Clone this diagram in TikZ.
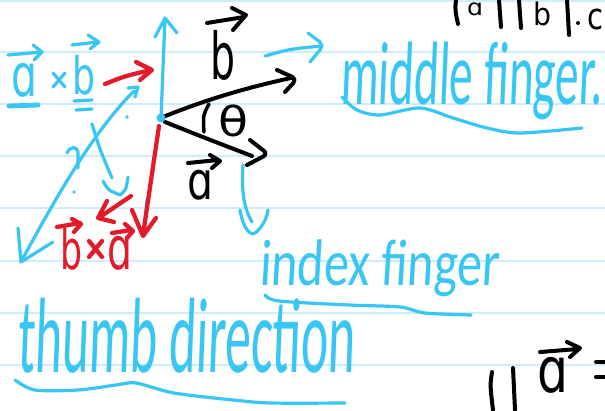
\documentclass[tikz,border=0pt]{standalone}
\usepackage{fontspec}
\usepackage{graphicx}
\newfontfamily\hand{DejaVu Sans}
\newfontfamily\handlight{Carlito}[FakeSlant=0.08]
\newdimen\pxu \pxu=0.75pt
\newcommand\fitt[3]{\resizebox*{#1\pxu}{#2\pxu}{\hand #3}}
\newcommand\fitw[3]{\resizebox*{#1\pxu}{#2\pxu}{\handlight #3}}
\definecolor{pen}{RGB}{56,198,245}
\definecolor{redc}{RGB}{226,26,42}
\definecolor{rulec}{RGB}{208,236,251}
\tikzset{
  bluepen/.style={draw=pen, line width=2.4pt, line cap=round, line join=round},
  blackpen/.style={draw=black, line width=3pt, line cap=round, line join=round},
  redpen/.style={draw=redc, line width=3.2pt, line cap=round, line join=round},
  ruleline/.style={draw=rulec, line width=1.3pt},
  txt/.style={inner sep=0pt, outer sep=0pt, anchor=north west},
}
\begin{document}
\begin{tikzpicture}[x=0.75pt,y=-0.75pt]
\useasboundingbox (0,0) rectangle (605,410);
\fill[white] (0,0) rectangle (605,410);
\begin{scope}
\clip (0,0) rectangle (605,410);
\foreach \yy in {1,52,104,156,208,261,313,365} \draw[ruleline] (0,\yy) -- (605,\yy);

% ---- labels (blue) ----
\node[txt,text=pen] (mid) at (340,42) {\fitw{262}{78}{middle finger.}};
\node[txt,text=pen] (idx) at (259,240) {\fitw{240}{57}{index finger}};
\node[txt,text=pen] (thumb) at (17,298) {\fitw{338}{75}{thumb direction}};
\node[txt,text=pen] (a1) at (12,63) {\fitt{26}{34}{ɑ}};
\node[txt,text=pen] (b1) at (72,55) {\fitt{23}{40}{b}};
% ---- labels (red) ----
\node[txt,text=redc] (b2) at (60,228) {\fitt{22}{42}{b}};
\node[txt,text=redc] (a2) at (107,236) {\fitt{25}{34}{ɑ}};
% ---- labels (black) ----
\node[txt] (theta) at (218,105) {\fitt{30}{32}{θ}};
\node[txt] (blab) at (210,30) {\fitt{25}{50}{b}};
\node[txt] (alab) at (187,170) {\fitt{26}{30}{ɑ}};
\node[txt] (tra) at (467,3) {\fitt{16}{13}{ɑ}};
\node[txt] (trb) at (533,2) {\fitt{18}{24}{b}};
\node[txt] (trc) at (587,9) {\fitt{16}{21}{c}};
\node[txt] (bra) at (537,357) {\fitt{31}{36}{ɑ}};

% multiplication signs
\draw[bluepen] (53,73) -- (65,87) (65,73) -- (53,87);
\draw[redpen] (89,241) -- (102,257) (102,241) -- (89,257);

% over-arrows and underlines of letters
\draw[bluepen] (8,55) -- (42,52) (33,45) -- (42,52) -- (34,60);
\draw[bluepen] (72,45) -- (98,42) (88,35) -- (99,42) -- (90,49);
\draw[bluepen, line width=3.6pt] (9,106) -- (38,105);
\draw[bluepen] (74,101) -- (92,100) (76,110) -- (92,109);
\draw[blackpen] (207,23) -- (244,17) (232,8) -- (246,15) -- (233,30);
\draw[blackpen] (188,163) -- (218,160) (210,155) -- (220,161) -- (212,168);
\draw[redpen] (57,227) -- (80,223) (72,219) -- (81,224) -- (74,232);
\draw[redpen] (112,233) -- (131,230) (125,224) -- (133,231) -- (127,238);
\draw[blackpen] (540,352) -- (578,349) (567,342) -- (580,348) -- (570,357);

% top right and bottom right fragments
\draw[blackpen] (456,0) .. controls (455,10) .. (458,24);
\draw[blackpen] (499,0) -- (501,27) (519,0) -- (521,28) (567,0) -- (569,35);
\fill (578,23) circle (2);
\draw[blackpen] (492,372) .. controls (490,385) .. (493,410);
\draw[blackpen] (513,368) -- (515,410);
\draw[blackpen] (596,362) -- (606,362) (596,377) -- (606,377);

% ---- main vectors ----
\coordinate (O) at (161,118);
\draw[bluepen] (O) -- (165,18) (155,37) -- (165,18) -- (177,33);
\draw[blackpen] (163,117) .. controls (205,100) and (245,88) .. (291,78);
\draw[blackpen, rounded corners=4pt] (277,70) -- (297,79) -- (285,92);
\draw[blackpen] (165,122) .. controls (200,136) .. (252,156);
\draw[blackpen, rounded corners=4pt] (250,140) -- (268,154) -- (247,165);
\draw[blackpen, line width=2.6pt] (209,104) .. controls (203,115) .. (204,132);
\draw[bluepen] (147,200) -- (144,236);
\draw[redpen] (159,126) -- (143,235) (132,210) -- (143,236) -- (156,218);
\fill[pen] (O) circle (4.5);

% a x b red small arrow
\draw[redpen] (105,84) .. controls (125,76) .. (151,70) (136,62) -- (152,70) -- (140,80);
% blue diagonal with both heads
\draw[bluepen] (22,260) .. controls (60,190) and (95,130) .. (134,91);
\draw[bluepen] (128,88) -- (138,87) -- (135,97);
\draw[bluepen] (18,228) -- (21,262) -- (53,242);
\draw[bluepen] (67,153) .. controls (70,146) and (77,146) .. (78,152) -- (78,168);
% second blue line
\draw[bluepen] (92,124) .. controls (100,150) .. (112,178);
\draw[bluepen] (103,181) .. controls (108,190) .. (120,195) .. controls (126,190) .. (128,177);
\fill[pen] (127,117) circle (1.8) (74,192) circle (1.8);
% b x a red small arrow
\draw[redpen] (131,196) -- (100,217) (107,201) -- (98,218) -- (114,222);
% pointers to fingers
\draw[bluepen] (265,56) .. controls (290,49) .. (322,46);
\draw[bluepen, rounded corners=4pt] (308,33) -- (324,45) -- (310,62);
\draw[bluepen] (243,165) .. controls (241,195) and (245,210) .. (252,222);
\draw[bluepen] (240,210) .. controls (243,228) and (250,236) .. (255,233) .. controls (262,228) and (267,218) .. (268,210);

% wavy underlines
\draw[bluepen] plot[smooth] coordinates {(342,97) (357,110) (380,115) (420,108) (453,118) (487,128) (520,133) (582,128)};
\draw[bluepen] plot[smooth] coordinates {(265,295) (279,301) (349,305) (400,307) (425,313) (471,315)};
\draw[bluepen] plot[smooth] coordinates {(15,380) (35,390) (78,390) (116,385) (136,383) (174,393) (233,400) (271,403) (345,403)};
\end{scope}
\end{tikzpicture}
\end{document}
